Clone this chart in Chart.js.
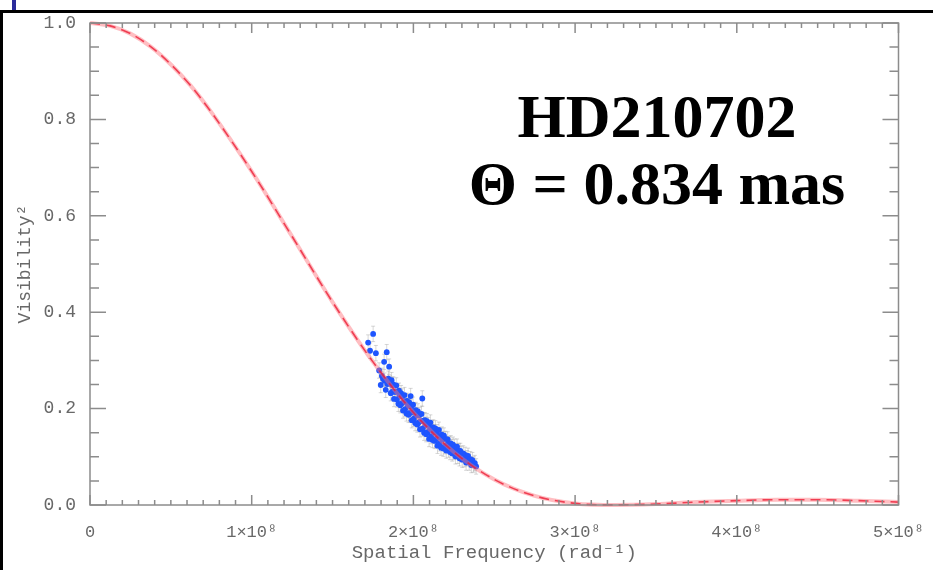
<!DOCTYPE html>
<html>
<head>
<meta charset="utf-8">
<script src="https://cdn.jsdelivr.net/npm/chart.js@4.4.1/dist/chart.umd.min.js"></script>
<style>
  body { margin: 0; background: #fff; }
  #wrap { position: relative; width: 933px; height: 570px; overflow: hidden; background: #fff; }
  #marcoTop { position: absolute; left: 0; top: 10px; width: 933px; height: 3px; background: #000; }
  #marcoIzq { position: absolute; left: 0; top: 10px; width: 3px; height: 560px; background: #000; }
  #barra { position: absolute; left: 12px; top: 0; width: 4px; height: 10px; background: #2b2b9b; }
  .rotulo {
    position: absolute; left: 657px;
    font-family: 'Liberation Serif', 'Times New Roman', serif;
    font-weight: bold; font-size: 62px; line-height: 1;
    color: #000; white-space: nowrap; transform: translateX(-50%);
  }
</style>
</head>
<body>
<div id="wrap">
  <canvas id="chartVis" width="933" height="570"></canvas>
  <div id="marcoTop"></div>
  <div id="marcoIzq"></div>
  <div id="barra"></div>
  <div class="rotulo" style="top:85px">HD210702</div>
  <div class="rotulo" style="top:152px">Θ = 0.834 mas</div>
</div>
<script>
// Curva del modelo (roja), frecuencia en unidades de 1e8 rad^-1
const frecModelo = [0, 0.125, 0.25, 0.375, 0.5, 0.625, 0.75, 1.0, 1.25, 1.5, 1.75, 2.0, 2.25, 2.5,
  2.75, 3.0, 3.25, 3.5, 3.75, 4.0, 4.25, 4.5, 4.75, 5.0];
const visModelo = [1.0, 0.994, 0.978, 0.951, 0.914, 0.869, 0.815, 0.692, 0.557, 0.421, 0.297, 0.192, 0.110, 0.053,
  0.019, 0.0033, 0.0002, 0.002, 0.006, 0.009, 0.011, 0.011, 0.009, 0.006];

// Puntos observados (azules)
const frecObs = [
  1.720, 1.732, 1.751, 1.768, 1.788, 1.798, 1.805, 1.812, 1.819, 1.822, 1.829, 1.835, 1.838, 1.845, 1.850,
  1.855, 1.860, 1.865, 1.868, 1.870, 1.876, 1.880, 1.885, 1.891, 1.894,
  1.898, 1.903, 1.907, 1.911, 1.915, 1.919, 1.924, 1.928, 1.932, 1.936,
  1.940, 1.945, 1.949, 1.953, 1.957, 1.961, 1.966, 1.970, 1.974, 1.978,
  1.983, 1.986, 1.990, 1.994, 1.998,
  2.003, 2.007, 2.011, 2.015, 2.019, 2.024, 2.028, 2.032, 2.036, 2.041,
  2.045, 2.050, 2.055, 2.058, 2.062, 2.066, 2.071, 2.075, 2.079, 2.084,
  2.088, 2.092, 2.097,
  2.101, 2.105, 2.110, 2.114, 2.118, 2.123, 2.127, 2.131, 2.136, 2.140,
  2.145, 2.149, 2.153, 2.158, 2.162, 2.167, 2.171, 2.176, 2.180, 2.185,
  2.189, 2.194, 2.198,
  2.203, 2.208, 2.212, 2.217, 2.221, 2.226, 2.231, 2.236, 2.240, 2.245,
  2.250, 2.255, 2.260, 2.265, 2.270, 2.275, 2.280, 2.285, 2.290, 2.296,
  2.302, 2.308, 2.314, 2.320, 2.326, 2.332, 2.338, 2.345, 2.352, 2.358,
  2.365, 2.372, 2.380, 2.388
];
const visObs = [
  0.337, 0.320, 0.355, 0.315, 0.279, 0.249, 0.268, 0.262, 0.297, 0.258, 0.239, 0.317, 0.251, 0.262, 0.287,
  0.252, 0.232, 0.259, 0.249, 0.235, 0.250, 0.220, 0.235, 0.235, 0.248,
  0.219, 0.235, 0.210, 0.237, 0.226, 0.207, 0.232, 0.211, 0.225, 0.196,
  0.213, 0.228, 0.199, 0.215, 0.190, 0.216, 0.206, 0.187, 0.213, 0.191,
  0.226, 0.204, 0.176, 0.192, 0.208,
  0.179, 0.195, 0.170, 0.197, 0.186, 0.167, 0.194, 0.171, 0.186, 0.157,
  0.174, 0.189, 0.221, 0.159, 0.175, 0.150, 0.176, 0.166, 0.147, 0.174,
  0.151, 0.166, 0.137,
  0.156, 0.171, 0.143, 0.159, 0.135, 0.161, 0.151, 0.133, 0.159, 0.137,
  0.151, 0.123, 0.140, 0.156, 0.128, 0.143, 0.119, 0.146, 0.136, 0.117,
  0.144, 0.122, 0.137,
  0.113, 0.125, 0.136, 0.115, 0.126, 0.110, 0.128, 0.120, 0.107, 0.125,
  0.110, 0.121, 0.101, 0.111, 0.121, 0.102, 0.112, 0.097, 0.112, 0.106,
  0.094, 0.107, 0.095, 0.104, 0.088, 0.097, 0.102, 0.088, 0.095, 0.083,
  0.093, 0.084, 0.087, 0.080
];
const errObs = 0.016;

const ticksX = [0, 1, 2, 3, 4, 5];
const ticksY = [0, 0.2, 0.4, 0.6, 0.8, 1.0];

const puntosModelo = frecModelo.map((f, i) => ({ x: f, y: visModelo[i] }));
const puntosObs = frecObs.map((f, i) => ({ x: f, y: visObs[i] }));

const fuenteEje = "'Liberation Mono', 'DejaVu Sans Mono', monospace";
const grisEje = '#686868';

// Caja tipo IDL con ticks hacia adentro y barras de error
const ejesIDL = {
  id: 'ejesIDL',
  beforeDatasetsDraw(chart) {
    const { ctx, scales: { x, y } } = chart;
    ctx.save();
    ctx.strokeStyle = 'rgba(140,140,140,0.35)';
    ctx.lineWidth = 1;
    puntosObs.forEach(p => {
      const px = x.getPixelForValue(p.x);
      const y1 = y.getPixelForValue(p.y - errObs);
      const y2 = y.getPixelForValue(p.y + errObs);
      ctx.beginPath();
      ctx.moveTo(px, y1); ctx.lineTo(px, y2);
      ctx.moveTo(px - 2, y1); ctx.lineTo(px + 2, y1);
      ctx.moveTo(px - 2, y2); ctx.lineTo(px + 2, y2);
      ctx.stroke();
    });
    ctx.restore();
  },
  afterDatasetsDraw(chart) {
    const { ctx, chartArea: a, scales: { x, y } } = chart;
    ctx.save();
    ctx.strokeStyle = '#8c8c8c';
    ctx.lineWidth = 1.5;
    ctx.strokeRect(a.left, a.top, a.right - a.left, a.bottom - a.top);
    ctx.beginPath();
    for (let i = 0; i <= 50; i++) {
      const px = x.getPixelForValue(i / 10);
      const largo = i % 10 === 0 ? 10 : 5;
      ctx.moveTo(px, a.bottom); ctx.lineTo(px, a.bottom - largo);
      ctx.moveTo(px, a.top); ctx.lineTo(px, a.top + largo);
    }
    for (let i = 0; i <= 20; i++) {
      const py = y.getPixelForValue(i * 0.05);
      const largo = i % 4 === 0 ? 16 : 9;
      ctx.moveTo(a.left, py); ctx.lineTo(a.left + largo, py);
      ctx.moveTo(a.right, py); ctx.lineTo(a.right - largo, py);
    }
    ctx.stroke();
    ctx.restore();
  }
};

const chartVis = document.getElementById('chartVis');

new Chart(chartVis, {
  type: 'scatter',
  data: {
    datasets: [
      {
        label: 'Modelo',
        data: puntosModelo,
        showLine: true,
        cubicInterpolationMode: 'monotone',
        borderColor: 'rgba(235,30,55,0.8)',
        borderWidth: 1.6,
        borderDash: [10, 6],
        pointRadius: 0,
        clip: 6,
        order: 0
      },
      {
        label: 'Modelo banda',
        data: puntosModelo,
        showLine: true,
        cubicInterpolationMode: 'monotone',
        borderColor: 'rgba(255,110,120,0.45)',
        borderWidth: 4,
        pointRadius: 0,
        clip: 6,
        order: 1
      },
      {
        label: 'Observado',
        data: puntosObs,
        backgroundColor: 'rgb(30,85,255)',
        borderWidth: 0,
        pointRadius: 2.9,
        order: 2
      }
    ]
  },
  options: {
    responsive: false,
    animation: false,
    layout: { padding: { top: 23, right: 32, left: 0, bottom: 0 } },
    plugins: {
      legend: { display: false },
      tooltip: { enabled: false }
    },
    scales: {
      x: {
        type: 'linear',
        min: 0,
        max: 5,
        grid: { display: false },
        border: { display: false },
        afterBuildTicks: s => { s.ticks = ticksX.map(v => ({ value: v })); },
        afterFit: s => { s.height = 65; },
        ticks: {
          padding: 9,
          maxRotation: 0,
          color: grisEje,
          font: { family: fuenteEje, size: 17 },
          callback: v => v === 0 ? '0' : v + '×10⁸'
        },
        title: {
          display: true,
          text: 'Spatial Frequency (rad⁻¹)',
          color: grisEje,
          font: { family: fuenteEje, size: 19 },
          padding: { top: 0, bottom: 6 }
        }
      },
      y: {
        min: 0,
        max: 1,
        grid: { display: false },
        border: { display: false },
        afterBuildTicks: s => { s.ticks = ticksY.map(v => ({ value: v })); },
        afterFit: s => { s.width = 90; },
        ticks: {
          padding: 6,
          color: grisEje,
          font: { family: fuenteEje, size: 18 },
          callback: v => v.toFixed(1)
        },
        title: {
          display: true,
          text: 'Visibility²',
          color: grisEje,
          font: { family: fuenteEje, size: 18 },
          padding: { top: 14, bottom: 0 }
        }
      }
    }
  },
  plugins: [ejesIDL]
});
</script>
</body>
</html>
